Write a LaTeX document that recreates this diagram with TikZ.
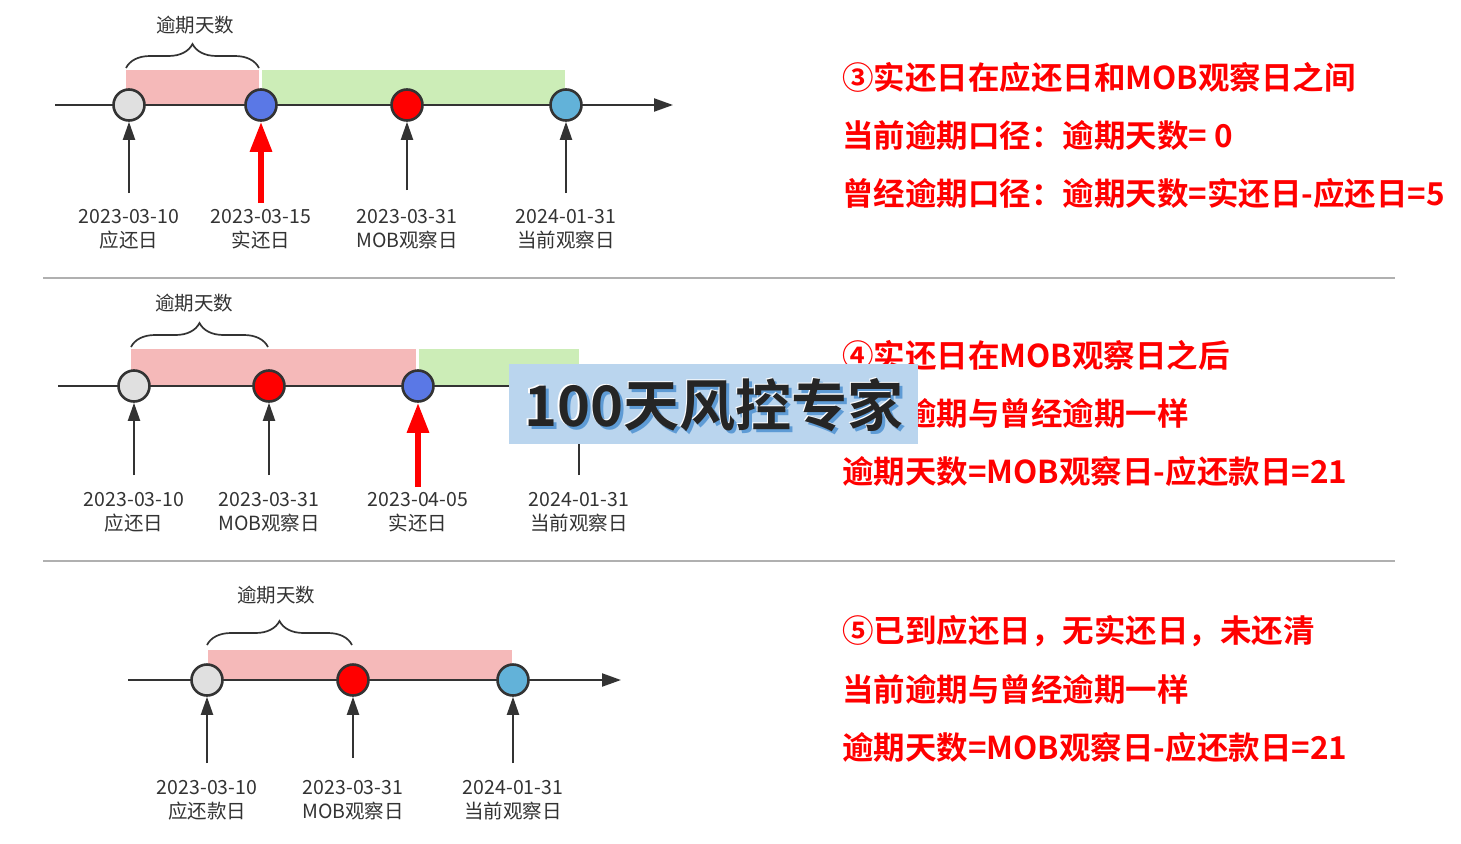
\documentclass[tikz,border=0pt]{standalone}
\usepackage{fontspec}
\setmainfont{Noto Sans CJK SC}
\newfontfamily\cjkb{Noto Sans CJK SC Bold}
\usetikzlibrary{arrows.meta,decorations.pathreplacing}
\definecolor{ink}{HTML}{333333}
\definecolor{pinkfill}{HTML}{F5B9B9}
\definecolor{greenfill}{HTML}{CCEDB7}
\definecolor{ptgrey}{HTML}{E0E0E0}
\definecolor{ptblue}{HTML}{5A78E6}
\definecolor{ptred}{HTML}{FF0000}
\definecolor{ptsky}{HTML}{62B2D9}
\definecolor{wmbox}{HTML}{BAD5EE}
\definecolor{wmshadow}{HTML}{5E9BD5}
\definecolor{wmink}{HTML}{252525}
\definecolor{sep}{HTML}{B0B0B0}
\newcommand\wmword{100天风控专家}
\newcommand\wmcopy[3]{\rlap{\hspace*{#1}\raisebox{#2}{\textcolor{#3}{\wmword}}}}
\tikzset{
  axis/.style={draw=ink,line width=2.2pt,-{Triangle[length=19pt,width=13pt]}},
  pt/.style={circle,draw=ink,line width=2.6pt,minimum size=31pt,inner sep=0pt},
  uparrow/.style={draw=ink,line width=2pt,-{Triangle[length=18pt,width=12pt]}},
  redarrow/.style={draw=ptred,line width=6pt,-{Triangle[length=30pt,width=21pt]}},
  datelbl/.style={text=ink,font=\fontsize{19.5}{24}\selectfont,align=center,inner sep=0pt},
  bracelbl/.style={text=ink,font=\fontsize{19.5}{22}\selectfont,inner sep=0pt},
  brc/.style={draw=ink,line width=1.7pt,decorate,decoration={brace,amplitude=24pt}},
  redtxt/.style={text=ptred,font=\cjkb\fontsize{31.5}{33}\selectfont,anchor=west,inner sep=0pt},
  seprule/.style={draw=sep,line width=2pt},
  wm/.style={font=\cjkb\fontsize{56}{60}\selectfont,inner sep=0pt}
}
\begin{document}
\begin{tikzpicture}[x=1pt,y=-1pt]
\useasboundingbox[fill=white] (0,0) rectangle (1461,843);
% ---------- timeline 1 ----------
\fill[pinkfill] (126,70) rectangle (259,105);
\fill[greenfill] (262,70) rectangle (565,105);
\coordinate (a1s) at (55,105);
\coordinate (a1e) at (673,105);
\draw[axis] (a1s) -- (a1e);
\node[pt,fill=ptgrey] (p11) at (129,105) {};
\node[pt,fill=ptblue] (p12) at (261,105) {};
\node[pt,fill=ptred] (p13) at (407,105) {};
\node[pt,fill=ptsky] (p14) at (566,105) {};
\coordinate (b11) at (129,193);
\coordinate (b12) at (261,203);
\coordinate (b13) at (407,190);
\coordinate (b14) at (566,193);
\draw[uparrow] (b11) -- (p11);
\draw[redarrow] (b12) -- (p12);
\draw[uparrow] (b13) -- (p13);
\draw[uparrow] (b14) -- (p14);
\node[datelbl] (l11) at (129,229) {2023-03-10\\应还日};
\node[datelbl] (l12) at (261,229) {2023-03-15\\实还日};
\node[datelbl] (l13) at (407,229) {2023-03-31\\MOB观察日};
\node[datelbl] (l14) at (566,229) {2024-01-31\\当前观察日};
\coordinate (br1a) at (126,68);
\coordinate (br1b) at (259,68);
\draw[brc] (br1a) -- (br1b);
\node[bracelbl] (bl1) at (195,25) {逾期天数};
% ---------- separator 1 ----------
\coordinate (s1a) at (43,278);
\coordinate (s1b) at (1395,278);
\draw[seprule] (s1a) -- (s1b);
% ---------- timeline 2 ----------
\fill[pinkfill] (131,349) rectangle (416,386);
\fill[greenfill] (419,349) rectangle (579,386);
\coordinate (a2s) at (58,386);
\coordinate (a2e) at (690,386);
\draw[axis] (a2s) -- (a2e);
\node[pt,fill=ptgrey] (p21) at (134,386) {};
\node[pt,fill=ptred] (p22) at (269,386) {};
\node[pt,fill=ptblue] (p23) at (418,386) {};
\node[pt,fill=ptsky] (p24) at (579,386) {};
\coordinate (b21) at (134,475);
\coordinate (b22) at (269,475);
\coordinate (b23) at (418,487);
\coordinate (b24) at (579,475);
\draw[uparrow] (b21) -- (p21);
\draw[uparrow] (b22) -- (p22);
\draw[redarrow] (b23) -- (p23);
\draw[uparrow] (b24) -- (p24);
\node[datelbl] (l21) at (134,512) {2023-03-10\\应还日};
\node[datelbl] (l22) at (269,512) {2023-03-31\\MOB观察日};
\node[datelbl] (l23) at (418,512) {2023-04-05\\实还日};
\node[datelbl] (l24) at (579,512) {2024-01-31\\当前观察日};
\coordinate (br2a) at (131,347);
\coordinate (br2b) at (268,347);
\draw[brc] (br2a) -- (br2b);
\node[bracelbl] (bl2) at (194,303) {逾期天数};
% ---------- separator 2 ----------
\coordinate (s2a) at (43,561);
\coordinate (s2b) at (1395,561);
\draw[seprule] (s2a) -- (s2b);
% ---------- timeline 3 ----------
\fill[pinkfill] (208,650) rectangle (512,680);
\coordinate (a3s) at (128,680);
\coordinate (a3e) at (621,680);
\draw[axis] (a3s) -- (a3e);
\node[pt,fill=ptgrey] (p31) at (207,680) {};
\node[pt,fill=ptred] (p32) at (353,680) {};
\node[pt,fill=ptsky] (p33) at (513,680) {};
\coordinate (b31) at (207,763);
\coordinate (b32) at (353,758);
\coordinate (b33) at (513,763);
\draw[uparrow] (b31) -- (p31);
\draw[uparrow] (b32) -- (p32);
\draw[uparrow] (b33) -- (p33);
\node[datelbl] (l31) at (207,800) {2023-03-10\\应还款日};
\node[datelbl] (l32) at (353,800) {2023-03-31\\MOB观察日};
\node[datelbl] (l33) at (513,800) {2024-01-31\\当前观察日};
\coordinate (br3a) at (207,645);
\coordinate (br3b) at (352,645);
\draw[brc] (br3a) -- (br3b);
\node[bracelbl] (bl3) at (276,595) {逾期天数};
% ---------- right texts ----------
\node[redtxt] (t31) at (842,77) {③实还日在应还日和MOB观察日之间};
\node[redtxt] (t32) at (842,135) {当前逾期口径：逾期天数= 0};
\node[redtxt] (t33) at (842,193) {曾经逾期口径：逾期天数=实还日-应还日=5};
\node[redtxt] (t41) at (842,355) {④实还日在MOB观察日之后};
\node[redtxt] (t42) at (842,413) {当前逾期与曾经逾期一样};
\node[redtxt] (t43) at (842,471) {逾期天数=MOB观察日-应还款日=21};
\node[redtxt] (t51) at (842,631) {⑤已到应还日，无实还日，未还清};
\node[redtxt] (t52) at (842,689) {当前逾期与曾经逾期一样};
\node[redtxt] (t53) at (842,747) {逾期天数=MOB观察日-应还款日=21};
% ---------- watermark ----------
\fill[wmbox] (509,364) rectangle (918,444);
\node[wm] (wmt) at (714,406) {\wmcopy{3pt}{-3pt}{wmshadow}\wmcopy{-1.5pt}{1.5pt}{white}\textcolor{wmink}{\wmword}};
\end{tikzpicture}
\end{document}
